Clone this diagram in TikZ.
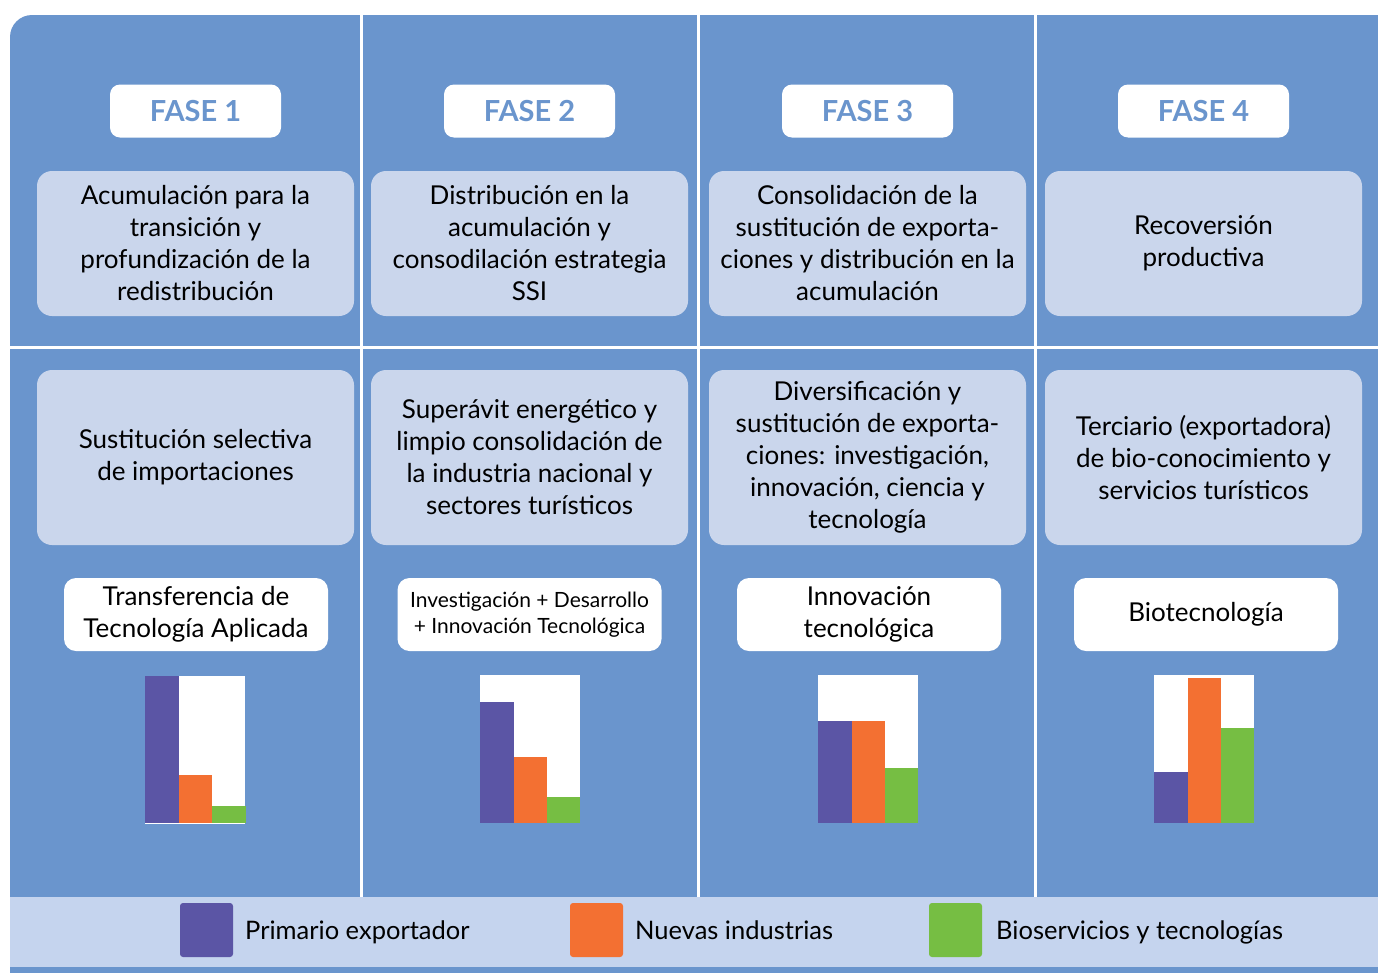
\documentclass[tikz,border=0pt]{standalone}
\usepackage{fontspec}
\setmainfont{Lato}

\definecolor{faseblue}{HTML}{6A95CD}
\definecolor{boxlight}{HTML}{CAD6EC}
\definecolor{leglight}{HTML}{C5D4EE}
\definecolor{primario}{HTML}{5B55A5}
\definecolor{nuevas}{HTML}{F37032}
\definecolor{bioserv}{HTML}{76BE43}

\tikzset{
    fasetag/.style={fill=white, rounded corners=10pt, minimum width=171pt, minimum height=53pt, inner sep=0pt, text=faseblue, font=\fontsize{29}{32}\selectfont\bfseries},
    etapa/.style={fill=boxlight, rounded corners=15pt, minimum width=317pt, minimum height=145pt, inner sep=0pt, align=center, font=\fontsize{26}{32}\selectfont},
    sector/.style={etapa, minimum height=175pt},
    tecno/.style={fill=white, rounded corners=12pt, minimum width=264pt, minimum height=73pt, inner sep=0pt, align=center, font=\fontsize{26}{32}\selectfont},
    legbox/.style={rounded corners=3pt, minimum width=53pt, minimum height=54pt, inner sep=0pt},
    legtext/.style={anchor=base west, inner sep=0pt, font=\fontsize{25.5}{32}\selectfont},
    sep/.style={white, line width=3pt},
}

\begin{document}
\begin{tikzpicture}[x=1pt, y=-1pt]
    \useasboundingbox (0,0) rectangle (1378,972);
    \fill[faseblue, rounded corners=22pt] (10,15) rectangle (1400,995);
    \fill[leglight] (10,897) rectangle (1378,967);

    \coordinate (t1) at (361,15);
    \coordinate (b1) at (361,897);
    \coordinate (t2) at (698,15);
    \coordinate (b2) at (698,897);
    \coordinate (t3) at (1035,15);
    \coordinate (b3) at (1035,897);
    \coordinate (l0) at (10,347);
    \coordinate (r0) at (1378,347);
    \draw[sep] (t1) -- (b1);
    \draw[sep] (t2) -- (b2);
    \draw[sep] (t3) -- (b3);
    \draw[sep] (l0) -- (r0);

    \node[fasetag] (F1) at (195.5,111) {FASE 1};
    \node[fasetag] (F2) at (529.5,111) {FASE 2};
    \node[fasetag] (F3) at (867.5,111) {FASE 3};
    \node[fasetag] (F4) at (1203.5,111) {FASE 4};

    \node[etapa] (E1) at (195.5,243.5) {Acumulación para la\\transición y\\profundización de la\\redistribución};
    \node[etapa] (E2) at (529.5,243.5) {Distribución en la\\acumulación y\\consodilación estrategia\\SSI};
    \node[etapa] (E3) at (867.5,243.5) {Consolidación de la\\sustitución de exporta-\\ciones y distribución en la\\acumulación};
    \node[etapa] (E4) at (1203.5,243.5) {Recoversión\\productiva};

    \node[sector] (S1) at (195.5,457.5) {Sustitución selectiva\\de importaciones};
    \node[sector] (S2) at (529.5,457.5) {Superávit energético y\\limpio consolidación de\\la industria nacional y\\sectores turísticos};
    \node[sector] (S3) at (867.5,457.5) {Diversificación y\\sustitución de exporta-\\ciones: investigación,\\innovación, ciencia y\\tecnología};
    \node[sector] (S4) at (1203.5,457.5) {Terciario (exportadora)\\de bio-conocimiento y\\servicios turísticos};

    \node[tecno] (T1) at (196,614.5) {Transferencia de\\Tecnología Aplicada};
    \node[tecno, font=\fontsize{21}{26}\selectfont] (T2) at (529.5,614.5) {Investigación + Desarrollo\\+ Innovación Tecnológica};
    \node[tecno] (T3) at (869,614.5) {Innovación\\tecnológica};
    \node[tecno] (T4) at (1206,614.5) {Biotecnología};

    % barras
    \fill[white] (145,676) rectangle (245,824);
    \fill[primario] (145,676) rectangle (178.5,823);
    \fill[nuevas] (178.5,775) rectangle (212,823);
    \fill[bioserv] (212,806) rectangle (245.5,823);

    \fill[white] (480,675) rectangle (580,823);
    \fill[primario] (480,702) rectangle (513.5,823);
    \fill[nuevas] (513.5,757) rectangle (547,823);
    \fill[bioserv] (547,797) rectangle (580,823);

    \fill[white] (818,675) rectangle (918,823);
    \fill[primario] (818,721) rectangle (851.5,823);
    \fill[nuevas] (851.5,721) rectangle (885,823);
    \fill[bioserv] (885,768) rectangle (918,823);

    \fill[white] (1154,675) rectangle (1254,823);
    \fill[primario] (1154,772) rectangle (1187.5,823);
    \fill[nuevas] (1187.5,678) rectangle (1221,823);
    \fill[bioserv] (1221,728) rectangle (1254,823);

    \node[legbox, fill=primario] (L1) at (206.5,930) {};
    \node[legbox, fill=nuevas] (L2) at (596.5,930) {};
    \node[legbox, fill=bioserv] (L3) at (955.5,930) {};
    \node[legtext] (P1) at (245,939) {Primario exportador};
    \node[legtext] (P2) at (635,939) {Nuevas industrias};
    \node[legtext] (P3) at (996,939) {Bioservicios y tecnologías};
\end{tikzpicture}
\end{document}
